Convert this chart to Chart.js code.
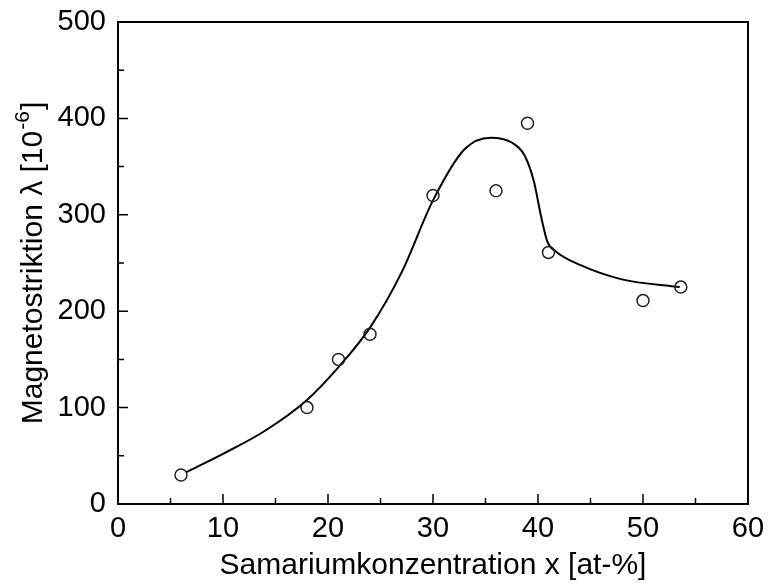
<!DOCTYPE html>
<html>
<head>
<meta charset="utf-8">
<script src="https://cdn.jsdelivr.net/npm/chart.js@4"></script>
<style>
  html, body { margin: 0; padding: 0; background: #fff; }
  #wrap { width: 768px; height: 584px; }
</style>
</head>
<body>
<div id="wrap"><canvas id="ch"></canvas></div>
<script>
// measured points (open circles)
const measX = [6, 18, 21, 24, 30, 36, 39, 41, 50, 53.6];
const measY = [30, 100, 150, 176, 320, 325, 395, 261, 211, 225];

// guide curve
const curveX = [6.5, 10, 14, 18, 21, 24, 27, 30, 33, 35.5, 37.5, 38.7, 39.6, 40.3, 40.9, 41.7, 44, 48, 53.5];
const curveY = [33, 52, 76, 108, 142, 183, 240, 315, 368, 380, 375, 362, 335, 298, 272, 262, 248, 233, 225];

const xTicks = [0, 10, 20, 30, 40, 50, 60];
const yTicks = [0, 100, 200, 300, 400, 500];

const yTitle = ['Magnetostriktion λ [10', '-6', ']'];

const FONT = "'Liberation Sans', Arial, sans-serif";

// frame + inward ticks + y title with superscript
const framePlugin = {
  id: 'frame',
  afterDraw(chart) {
    const { ctx, chartArea: a, scales } = chart;
    ctx.save();
    ctx.strokeStyle = '#000';
    ctx.lineWidth = 2;
    ctx.strokeRect(a.left, a.top, a.right - a.left, a.bottom - a.top);
    ctx.lineWidth = 1.5;
    ctx.beginPath();
    for (let v = 0; v <= 60; v += 5) {
      const px = scales.x.getPixelForValue(v);
      const len = v % 10 === 0 ? 10 : 6;
      ctx.moveTo(px, a.bottom); ctx.lineTo(px, a.bottom - len);
    }
    for (let v = 0; v <= 500; v += 50) {
      const py = scales.y.getPixelForValue(v);
      const len = v % 100 === 0 ? 10 : 6;
      ctx.moveTo(a.left, py); ctx.lineTo(a.left + len, py);
    }
    ctx.stroke();

    // rotated y title
    const big = '30px ' + FONT, small = '21px ' + FONT;
    ctx.font = big;
    const w0 = ctx.measureText(yTitle[0]).width;
    const w2 = ctx.measureText(yTitle[2]).width;
    ctx.font = small;
    const w1 = ctx.measureText(yTitle[1]).width;
    const total = w0 + w1 + w2 + 2;
    ctx.translate(34, 263);
    ctx.rotate(-Math.PI / 2);
    ctx.fillStyle = '#000';
    ctx.textBaseline = 'middle';
    ctx.textAlign = 'left';
    let x = -total / 2;
    ctx.font = big;
    ctx.fillText(yTitle[0], x, 0);
    x += w0 + 1;
    ctx.font = small;
    ctx.fillText(yTitle[1], x, -11);
    x += w1 + 1;
    ctx.font = big;
    ctx.fillText(yTitle[2], x, 0);
    ctx.restore();
  }
};

new Chart(document.getElementById('ch'), {
  type: 'scatter',
  data: {
    datasets: [
      {
        data: measX.map((x, i) => ({ x, y: measY[i] })),
        showLine: false,
        pointRadius: 6,
        pointBorderWidth: 1.5,
        pointBorderColor: '#222',
        pointBackgroundColor: 'rgba(255,255,255,0)'
      },
      {
        data: curveX.map((x, i) => ({ x, y: curveY[i] })),
        showLine: true,
        borderColor: '#000',
        borderWidth: 2,
        pointRadius: 0,
        cubicInterpolationMode: 'monotone'
      }
    ]
  },
  options: {
    responsive: true,
    maintainAspectRatio: false,
    animation: false,
    layout: { padding: { top: 22, right: 20, left: 0, bottom: 0 } },
    plugins: { legend: { display: false }, tooltip: { enabled: false } },
    scales: {
      x: {
        type: 'linear', min: 0, max: 60,
        afterBuildTicks: s => { s.ticks = xTicks.map(v => ({ value: v })); },
        afterFit: s => { s.height = 80; },
        grid: { display: false },
        border: { display: false },
        ticks: { color: '#000', font: { family: FONT, size: 29 }, padding: 0, maxRotation: 0 },
        title: {
          display: true, text: 'Samariumkonzentration x [at-%]',
          color: '#000', font: { family: FONT, size: 30 }, padding: { top: 0, bottom: 0 }
        }
      },
      y: {
        type: 'linear', min: 0, max: 500,
        afterBuildTicks: s => { s.ticks = yTicks.map(v => ({ value: v })); },
        afterFit: s => { s.width = 118; },
        grid: { display: false },
        border: { display: false },
        ticks: { color: '#000', font: { family: FONT, size: 29 }, padding: 4 }
      }
    }
  },
  plugins: [framePlugin]
});
</script>
</body>
</html>
